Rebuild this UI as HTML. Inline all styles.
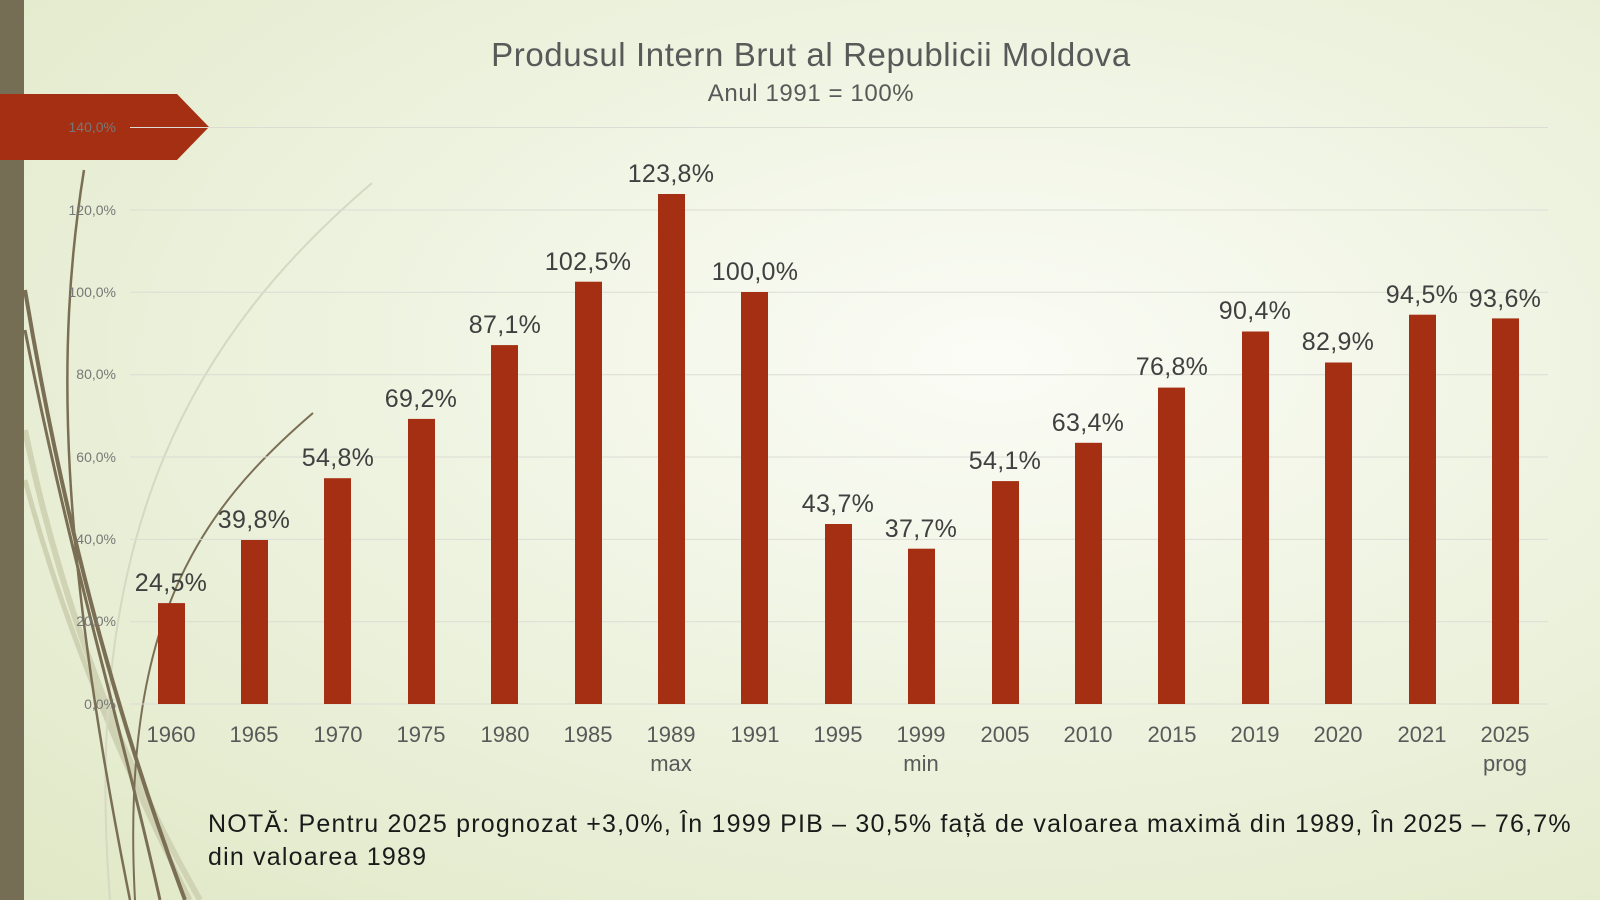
<!DOCTYPE html>
<html><head><meta charset="utf-8"><style>
html,body{margin:0;padding:0;}
body{width:1600px;height:900px;overflow:hidden;background:radial-gradient(ellipse at 62% 40%,#fbfcf6 0%,#eef3e0 45%,#e0e8c6 100%);font-family:"Liberation Sans",sans-serif;}
svg{position:absolute;left:0;top:0;}
</style></head><body>
<svg width="1600" height="900" viewBox="0 0 1600 900" xmlns="http://www.w3.org/2000/svg" font-family="Liberation Sans, sans-serif">
<g fill="none">
<path d="M25 430 C60 600 120 760 200 900" stroke="#d0d3b4" stroke-width="6"/>
<path d="M25 480 C70 650 140 800 190 900" stroke="#cfd2b2" stroke-width="5"/>
<path d="M372 183 C200 330 80 520 110 900" stroke="#d6d8c2" stroke-width="2"/>
<path d="M25 290 C60 500 110 700 185 900" stroke="#7a6f55" stroke-width="4"/>
<path d="M25 330 C70 560 120 720 160 900" stroke="#7a6f55" stroke-width="3"/>
<path d="M84 170 C55 350 60 550 130 900" stroke="#7a6f55" stroke-width="2.5"/>
<path d="M313 413 C200 510 120 620 135 900" stroke="#7a6f55" stroke-width="2"/>
</g>
<rect x="0" y="0" width="24" height="900" fill="#766d55"/>
<polygon points="0,94 177,94 209,127 177,160 0,160" fill="#a52f12"/>
<text x="811" y="66" text-anchor="middle" font-size="33" fill="#595959" letter-spacing="0.6">Produsul Intern Brut al Republicii Moldova</text>
<text x="811" y="101" text-anchor="middle" font-size="24" fill="#595959" letter-spacing="0.6">Anul 1991 = 100%</text>
<g stroke="#dcdcd4" stroke-width="1">
<line x1="130" x2="1548" y1="127.5" y2="127.5"/>
<line x1="130" x2="1548" y1="210" y2="210"/>
<line x1="130" x2="1548" y1="292.3" y2="292.3"/>
<line x1="130" x2="1548" y1="374.7" y2="374.7"/>
<line x1="130" x2="1548" y1="457" y2="457"/>
<line x1="130" x2="1548" y1="539.4" y2="539.4"/>
<line x1="130" x2="1548" y1="621.7" y2="621.7"/>
<line x1="130" x2="1548" y1="704" y2="704"/>
</g>
<g font-size="14" fill="#777" text-anchor="end">
<text x="116" y="132">140,0%</text>
<text x="116" y="215">120,0%</text>
<text x="116" y="297">100,0%</text>
<text x="116" y="379">80,0%</text>
<text x="116" y="462">60,0%</text>
<text x="116" y="544">40,0%</text>
<text x="116" y="626">20,0%</text>
<text x="116" y="709">0,0%</text>
</g>
<g fill="#a52f12">
<rect x="158" y="603.1" width="27" height="100.9"/>
<rect x="241" y="540" width="27" height="164"/>
<rect x="324" y="478.2" width="27" height="225.8"/>
<rect x="408" y="418.9" width="27" height="285.1"/>
<rect x="491" y="345.1" width="27" height="358.9"/>
<rect x="575" y="281.7" width="27" height="422.3"/>
<rect x="658" y="194" width="27" height="510"/>
<rect x="741" y="292" width="27" height="412"/>
<rect x="825" y="524" width="27" height="180"/>
<rect x="908" y="548.7" width="27" height="155.3"/>
<rect x="992" y="481.1" width="27" height="222.9"/>
<rect x="1075" y="442.8" width="27" height="261.2"/>
<rect x="1158" y="387.6" width="27" height="316.4"/>
<rect x="1242" y="331.5" width="27" height="372.5"/>
<rect x="1325" y="362.5" width="27" height="341.5"/>
<rect x="1409" y="314.7" width="27" height="389.3"/>
<rect x="1492" y="318.4" width="27" height="385.6"/>
</g>
<g font-size="25" fill="#404040" text-anchor="middle" letter-spacing="0.3">
<text x="171" y="591">24,5%</text>
<text x="254" y="528">39,8%</text>
<text x="338" y="466">54,8%</text>
<text x="421" y="407">69,2%</text>
<text x="505" y="333">87,1%</text>
<text x="588" y="270">102,5%</text>
<text x="671" y="182">123,8%</text>
<text x="755" y="280">100,0%</text>
<text x="838" y="512">43,7%</text>
<text x="921" y="537">37,7%</text>
<text x="1005" y="469">54,1%</text>
<text x="1088" y="431">63,4%</text>
<text x="1172" y="375">76,8%</text>
<text x="1255" y="319">90,4%</text>
<text x="1338" y="350">82,9%</text>
<text x="1422" y="303">94,5%</text>
<text x="1505" y="307">93,6%</text>
</g>
<g font-size="22" fill="#595959" text-anchor="middle">
<text x="171" y="742">1960</text>
<text x="254" y="742">1965</text>
<text x="338" y="742">1970</text>
<text x="421" y="742">1975</text>
<text x="505" y="742">1980</text>
<text x="588" y="742">1985</text>
<text x="671" y="742">1989</text><text x="671" y="771">max</text>
<text x="755" y="742">1991</text>
<text x="838" y="742">1995</text>
<text x="921" y="742">1999</text><text x="921" y="771">min</text>
<text x="1005" y="742">2005</text>
<text x="1088" y="742">2010</text>
<text x="1172" y="742">2015</text>
<text x="1255" y="742">2019</text>
<text x="1338" y="742">2020</text>
<text x="1422" y="742">2021</text>
<text x="1505" y="742">2025</text><text x="1505" y="771">prog</text>
</g>
<g font-size="25" fill="#1a1a1a" letter-spacing="1.2">
<text x="208" y="832">NOTĂ: Pentru 2025 prognozat +3,0%, În 1999 PIB – 30,5% față de valoarea maximă din 1989, În 2025 – 76,7%</text>
<text x="208" y="865">din valoarea 1989</text>
</g>
</svg>
</body></html>
